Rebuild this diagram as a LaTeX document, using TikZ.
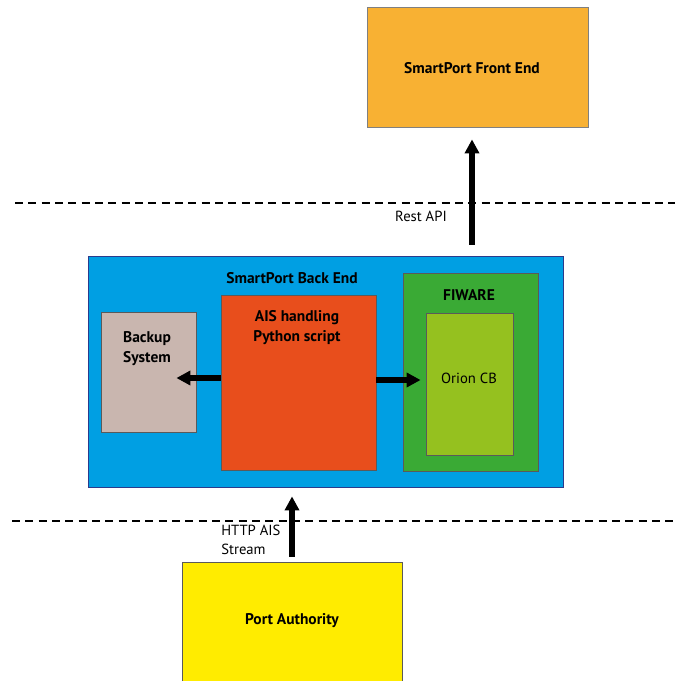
\documentclass[tikz,border=0pt]{standalone}
\usepackage{fontspec}
\setmainfont{PT Sans}
\usetikzlibrary{arrows.meta,calc}
\definecolor{feorange}{HTML}{F8B133}
\definecolor{beblue}{HTML}{009FE3}
\definecolor{bedge}{HTML}{2B3A8C}
\definecolor{aisred}{HTML}{E84E1C}
\definecolor{backupgray}{HTML}{C9B6AF}
\definecolor{fiwgreen}{HTML}{3AAA35}
\definecolor{orionlime}{HTML}{95C11F}
\definecolor{payellow}{HTML}{FFEC00}
\definecolor{edgegray}{HTML}{5A5A5A}
\begin{document}
\begin{tikzpicture}[x=0.75pt,y=-0.75pt,
  blk/.style={draw=edgegray,line width=0.6pt,inner sep=0pt,minimum width=#1},
  bold/.style={font=\fontsize{11.6}{15}\selectfont\bfseries,align=center,inner sep=0pt},
  plain/.style={font=\fontsize{11}{14.5}\selectfont,align=left,inner sep=0pt},
  sep/.style={line width=2pt,dash pattern=on 6pt off 4pt},
  arr/.style={line width=3.8pt,-{Triangle[length=10.5pt,width=10.5pt]}}]
\useasboundingbox (0,0) rectangle (675,681);
\begin{scope}
\clip (0,0) rectangle (675,681);
% boxes
\node[blk=165.75pt,minimum height=90pt,fill=feorange,draw=gray] (fe) at (477.5,67) {};
\node[blk=356.25pt,minimum height=173.25pt,fill=beblue,draw=bedge] (be) at (325.5,371.5) {};
\node[blk=116.25pt,minimum height=131.25pt,fill=aisred] (ais) at (298.5,382.5) {};
\node[blk=71.25pt,minimum height=90pt,fill=backupgray] (bk) at (148.5,372) {};
\node[blk=101.25pt,minimum height=148.5pt,fill=fiwgreen] (fw) at (470.5,372) {};
\node[blk=65.25pt,minimum height=106.5pt,fill=orionlime] (oc) at (469.5,384) {};
\node[blk=165pt,minimum height=96pt,fill=payellow] (pa) at (292,626) {};
\end{scope}
% labels
\node[bold] (feT) at (472,68) {SmartPort Front End};
\node[bold] (beT) at (292,278) {SmartPort Back End};
\node[bold] (aisT) at (297,328) {AIS handling\\Python script};
\node[bold] (fwT) at (469,295) {FIWARE};
\node[bold] (bkT) at (147,349) {Backup\\System};
\node[plain] (ocT) at (469,378) {Orion CB};
\node[bold] (paT) at (292,621) {Port Authority};
\node[plain] (rest) at (421,216) {Rest API};
\node[plain,anchor=west] (http) at (221,540) {HTTP AIS\\Stream};
% tier separators
\coordinate (s1a) at (15,203); \coordinate (s1b) at (675,203);
\coordinate (s2a) at (12,521); \coordinate (s2b) at (675,521);
\draw[sep] (s1a) -- (s1b);
\draw[sep] (s2a) -- (s2b);
% data flows
\coordinate (restx) at (472,0);
\coordinate (httpx) at (292,0);
\draw[arr,shorten <=8.25pt,shorten >=9pt] (be.north -| restx) -- (fe.south -| restx);
\draw[arr,shorten <=3.75pt,shorten >=6.75pt] (pa.north -| httpx) -- (be.south -| httpx);
\draw[arr,shorten >=-15pt] (ais.west |- 0,378) -- (bk.east |- 0,378);
\draw[arr,shorten >=3.75pt] (ais.east |- 0,380) -- (oc.west |- 0,380);
\end{tikzpicture}
\end{document}
